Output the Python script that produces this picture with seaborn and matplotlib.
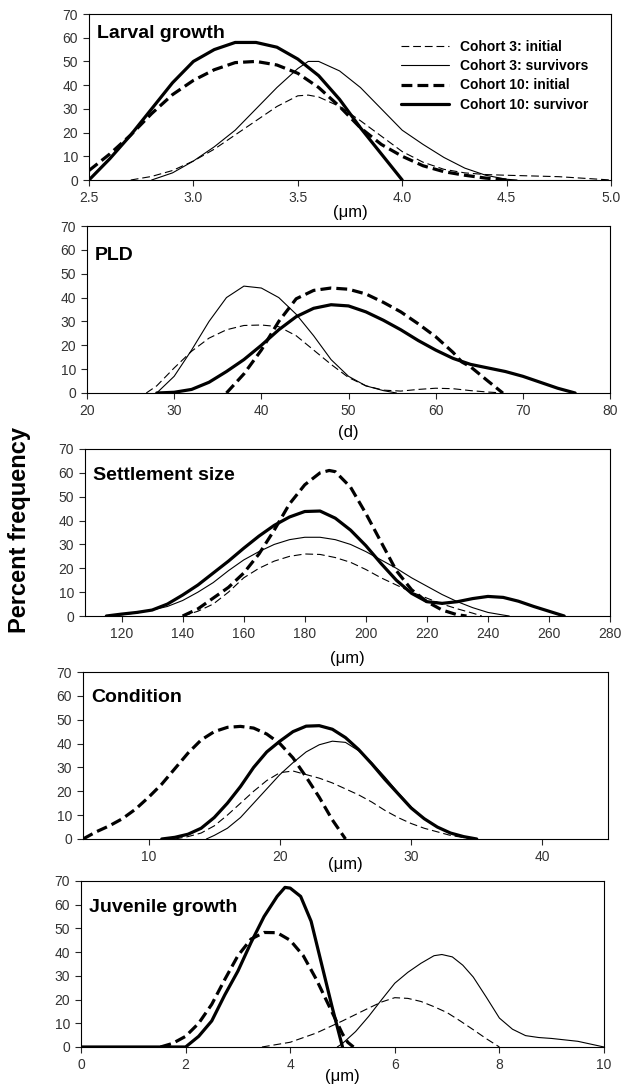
import numpy as np
import pandas as pd
import seaborn as sns
import matplotlib.pyplot as plt

# ── Data ─────────────────────────────────────────────────────────────────────
LABELS = ["Cohort 3: initial", "Cohort 3: survivors",
          "Cohort 10: initial", "Cohort 10: survivor"]

# Larval growth (µm)
larval_c3i_x = [2.7, 2.8, 2.9, 3.0, 3.1, 3.2, 3.3, 3.4, 3.5, 3.55, 3.6, 3.7, 3.8, 3.9,
                4.0, 4.1, 4.2, 4.3, 4.4, 4.5, 4.75, 5.0]
larval_c3i_y = [0, 1.5, 4, 8, 13, 19, 25, 31, 35.5, 35.8, 35, 31, 25, 18.5,
                12, 7.5, 4.5, 3, 2.3, 2, 1.4, 0]
larval_c3s_x = [2.8, 2.9, 3.0, 3.1, 3.2, 3.3, 3.4, 3.5, 3.55, 3.6, 3.7, 3.8, 3.9,
                4.0, 4.1, 4.2, 4.3, 4.4, 4.5, 4.55]
larval_c3s_y = [0, 3, 8, 14, 21, 30, 39, 47, 50, 50, 46, 39, 30,
                21, 15, 9.5, 5, 2, 0.3, 0]
larval_c10i_x = [2.5, 2.6, 2.7, 2.8, 2.9, 3.0, 3.1, 3.2, 3.3, 3.4, 3.5, 3.6, 3.7,
                 3.8, 3.9, 4.0, 4.1, 4.2, 4.3, 4.4, 4.5]
larval_c10i_y = [4, 11, 19, 28, 36, 42, 46.5, 49.5, 50, 48.5, 45, 39, 31,
                 22, 15, 10, 6, 3.5, 2, 0.8, 0]
larval_c10s_x = [2.5, 2.6, 2.7, 2.8, 2.9, 3.0, 3.1, 3.2, 3.3, 3.4, 3.5, 3.6, 3.7,
                 3.8, 3.9, 4.0]
larval_c10s_y = [0, 9, 19, 30, 41, 50, 55, 58, 58, 56, 51, 44, 34,
                 22, 11, 0]

# PLD (d)
pld_c3i_x = [26.8, 28, 30, 32, 34, 36, 38, 40, 42, 44, 46, 48, 50, 52, 54, 56,
             58, 60, 62, 64, 66, 67.8]
pld_c3i_y = [0, 3, 10.5, 17.5, 23, 26.5, 28.3, 28.5, 27.8, 24, 18, 12, 6.5, 3,
             1.2, 0.8, 1.5, 2, 1.8, 1, 0.4, 0]
pld_c3s_x = [28, 30, 32, 34, 36, 38, 40, 42, 44, 46, 48, 50, 52, 54, 55.5]
pld_c3s_y = [0, 7, 18, 30, 40, 44.8, 44, 40, 33, 24, 14, 7, 3, 1, 0]
pld_c10i_x = [36, 38, 40, 42, 44, 46, 48, 50, 52, 54, 56, 58, 60, 62, 63, 64,
              66, 67.7]
pld_c10i_y = [0, 8, 18, 30, 39.5, 43, 44, 43.5, 41.5, 38, 34, 29, 23.6, 17,
              13, 11, 5, 0]
pld_c10s_x = [28, 30, 32, 34, 36, 38, 40, 42, 44, 46, 48, 50, 52, 54, 56, 58,
              60, 62, 64, 66, 68, 70, 72, 74, 76]
pld_c10s_y = [0, 0.3, 1.5, 4.5, 9, 14, 20, 26.5, 32, 35.5, 37, 36.5, 34, 30.5,
              26.5, 22, 18, 14.5, 12, 10.5, 9, 7, 4.5, 2, 0]

# Settlement size (µm)
settle_c3i_x = [140, 145, 150, 155, 160, 165, 170, 175, 180, 185, 190, 195, 200,
                205, 210, 215, 220, 225, 230, 235, 238]
settle_c3i_y = [0, 2, 5, 10, 16, 20, 23, 25, 26, 25.8, 24.5, 22.5, 19.5,
                16, 13, 10, 7.5, 5, 3, 1.2, 0]
settle_c3s_x = [115, 120, 125, 130, 135, 140, 145, 150, 155, 160, 165, 170, 175,
                180, 185, 190, 195, 200, 205, 210, 215, 220, 225, 230, 235, 240,
                245, 247]
settle_c3s_y = [0, 0.5, 1.3, 2.5, 4, 6.5, 10, 14, 19, 23.5, 27, 30, 32,
                33, 33, 32, 30, 27, 23.5, 20, 16, 12.5, 9, 6, 3.5, 1.5,
                0.4, 0]
settle_c10i_x = [140, 145, 150, 155, 160, 165, 170, 175, 180, 185, 188, 190, 195,
                 200, 205, 210, 215, 220, 225, 230, 233]
settle_c10i_y = [0, 3, 7.5, 12, 18, 26, 36, 47, 55, 60, 61, 60.5, 54,
                 43, 31, 19, 11, 6, 2.5, 0.5, 0]
settle_c10s_x = [115, 120, 125, 130, 135, 140, 145, 150, 155, 160, 165, 170, 175,
                 180, 185, 190, 195, 200, 205, 210, 215, 220, 225, 230, 235, 240,
                 245, 250, 255, 260, 265]
settle_c10s_y = [0, 0.8, 1.5, 2.5, 5, 8.8, 13, 18, 23, 28.4, 33.5, 38, 41.5,
                 43.8, 44, 41, 36, 29.5, 22, 15, 9.5, 6, 5.3, 6, 7.3, 8.2,
                 7.8, 6.2, 4, 2, 0]

# Condition (µm)
cond_c3i_x = [12, 13, 14, 15, 16, 17, 18, 19, 20, 21, 22, 23, 24, 25, 26, 27,
              28, 29, 30, 31, 32, 33, 34, 35]
cond_c3i_y = [0, 1, 2.5, 5.5, 10, 15, 20, 24.5, 27.8, 28.5, 27, 25.5, 23.5, 21,
              18.5, 15.5, 12, 9, 6.5, 4.5, 3, 1.5, 0.6, 0]
cond_c3s_x = [14.4, 15, 16, 17, 18, 19, 20, 21, 22, 23, 24, 25, 26, 27, 28, 29,
              30, 31, 32, 33, 34, 35]
cond_c3s_y = [0, 1.5, 4.5, 9, 15, 21, 27, 32, 36.5, 39.5, 41, 40.5, 37, 32, 26,
              19.5, 13.5, 8.5, 5, 2.5, 1, 0]
cond_c10i_x = [5, 6, 7, 8, 9, 10, 11, 12, 13, 14, 15, 16, 17, 18, 19, 20, 21,
               22, 23, 24, 25]
cond_c10i_y = [0, 3, 5.5, 8.5, 12.5, 17.5, 23, 29.5, 36, 41.5, 45, 46.8, 47.2,
               46.5, 44, 40, 34, 26, 17.5, 8, 0]
cond_c10s_x = [11, 12, 13, 14, 15, 16, 17, 18, 19, 20, 21, 22, 23, 24, 25, 26,
               27, 28, 29, 30, 31, 32, 33, 34, 35]
cond_c10s_y = [0, 0.7, 2, 4.5, 9, 15, 22, 30, 36.5, 41, 45, 47.3, 47.5, 46,
               42.5, 37.5, 31.5, 25, 19, 13, 8.5, 5, 2.5, 1, 0]

# Juvenile growth (µm)
juv_c3i_x = [3.46, 4.0, 4.5, 5.0, 5.5, 5.75, 6.0, 6.25, 6.5, 6.75, 7.0, 7.25,
             7.5, 7.75, 8.0]
juv_c3i_y = [0, 2, 5.9, 11, 16.4, 19, 20.8, 20.5, 19.2, 17, 14.5, 11,
             7.3, 3.5, 0]
juv_c3s_x = [4.9, 5.0, 5.25, 5.5, 5.75, 6.0, 6.25, 6.5, 6.75, 6.9, 7.1, 7.3,
             7.5, 7.75, 8.0, 8.25, 8.5, 8.75, 9.0, 9.5, 10.0]
juv_c3s_y = [0, 1.5, 6.5, 12.9, 20, 26.9, 31.5, 35.3, 38.5, 39, 38, 34.5,
             29.5, 21, 12.2, 7.5, 4.8, 4, 3.6, 2.4, 0]
juv_c10i_x = [1.52, 1.75, 2.0, 2.25, 2.5, 2.75, 3.0, 3.25, 3.5, 3.75, 4.0, 4.25,
              4.5, 4.75, 5.0, 5.1, 5.21]
juv_c10i_y = [0, 1.5, 4.5, 10, 18, 28.5, 38.5, 45.5, 48.3, 48.2, 45, 38.5,
              28.5, 17, 5.5, 2, 0]
juv_c10s_x = [0, 2.0, 2.25, 2.5, 2.75, 3.0, 3.25, 3.5, 3.75, 3.9, 4.0, 4.2,
              4.4, 4.6, 4.8, 5.0]
juv_c10s_y = [0, 0, 4.5, 11, 22, 32, 44, 55, 63.5, 67.3, 67, 63.5,
              53, 35, 17, 0]

# ── Panel set-up ─────────────────────────────────────────────────────────────
PANELS = [
    dict(title="Larval growth", xlabel="(\u03bcm)", xlim=(2.5, 5.0),
         xticks=[2.5, 3.0, 3.5, 4.0, 4.5, 5.0], fmt="{:.1f}",
         series=[(larval_c3i_x, larval_c3i_y), (larval_c3s_x, larval_c3s_y),
                 (larval_c10i_x, larval_c10i_y), (larval_c10s_x, larval_c10s_y)],
         box=(89, 611, 14, 180), title_dy=19, xlab_dy=33),
    dict(title="PLD", xlabel="(d)", xlim=(20, 80),
         xticks=[20, 30, 40, 50, 60, 70, 80], fmt="{:.0f}",
         series=[(pld_c3i_x, pld_c3i_y), (pld_c3s_x, pld_c3s_y),
                 (pld_c10i_x, pld_c10i_y), (pld_c10s_x, pld_c10s_y)],
         box=(87, 610, 226, 393), title_dy=29, xlab_dy=40),
    dict(title="Settlement size", xlabel="(\u03bcm)", xlim=(108, 280),
         xticks=[120, 140, 160, 180, 200, 220, 240, 260, 280], fmt="{:.0f}",
         series=[(settle_c3i_x, settle_c3i_y), (settle_c3s_x, settle_c3s_y),
                 (settle_c10i_x, settle_c10i_y), (settle_c10s_x, settle_c10s_y)],
         box=(85, 610, 449, 616), title_dy=26, xlab_dy=42),
    dict(title="Condition", xlabel="(\u03bcm)", xlim=(5, 45),
         xticks=[10, 20, 30, 40], fmt="{:.0f}",
         series=[(cond_c3i_x, cond_c3i_y), (cond_c3s_x, cond_c3s_y),
                 (cond_c10i_x, cond_c10i_y), (cond_c10s_x, cond_c10s_y)],
         box=(83, 608, 672, 839), title_dy=25, xlab_dy=26),
    dict(title="Juvenile growth", xlabel="(\u03bcm)", xlim=(0, 10),
         xticks=[0, 2, 4, 6, 8, 10], fmt="{:.0f}",
         series=[(juv_c3i_x, juv_c3i_y), (juv_c3s_x, juv_c3s_y),
                 (juv_c10i_x, juv_c10i_y), (juv_c10s_x, juv_c10s_y)],
         box=(81, 604, 881, 1047), title_dy=27, xlab_dy=30),
]

STYLES = [
    dict(linewidth=0.8, linestyle=(0, (7, 3.5))),
    dict(linewidth=0.8, linestyle="-"),
    dict(linewidth=2.3, linestyle=(0, (3.4, 1.6))),
    dict(linewidth=2.3, linestyle="-"),
]

# ── Figure ───────────────────────────────────────────────────────────────────
sns.set_style("ticks")
plt.rcParams["font.family"] = ["Liberation Sans", "DejaVu Sans"]
plt.rcParams["text.color"] = "black"
plt.rcParams["axes.labelcolor"] = "black"

W, H = 622, 1087
fig = plt.figure(figsize=(W / 100, H / 100), dpi=100)

for i, p in enumerate(PANELS):
    l, r, t, b = p["box"]
    ax = fig.add_axes([l / W, 1 - b / H, (r - l) / W, (b - t) / H])
    for (xs, ys), lab, st in zip(p["series"], LABELS, STYLES):
        df = pd.DataFrame({"x": xs, "y": ys})
        sns.lineplot(data=df, x="x", y="y", ax=ax, color="black",
                     label=lab if i == 0 else None, legend=False,
                     sort=False, solid_joinstyle="round", **st)
    ax.set_xlim(*p["xlim"])
    ax.set_ylim(0, 70)
    ax.set_yticks(range(0, 71, 10))
    ax.set_xticks(p["xticks"])
    ax.set_xticklabels([p["fmt"].format(v) for v in p["xticks"]])
    ax.tick_params(direction="out", length=4, width=0.8, labelsize=10,
                   labelcolor="#333333", pad=4)
    for sp in ax.spines.values():
        sp.set_color("black")
        sp.set_linewidth(0.8)
    ax.set_ylabel("")
    ax.set_xlabel(p["xlabel"], fontsize=12)
    ax.xaxis.set_label_coords(0.5, -p["xlab_dy"] / (b - t))
    ax.xaxis.label.set_va("center")
    ax.text(8 / (r - l), 1 - p["title_dy"] / (b - t), p["title"],
            transform=ax.transAxes, fontsize=14, fontweight="bold",
            ha="left", va="center")
    if i == 0:
        ax.legend(loc="upper left", bbox_to_anchor=(394 / W, 1 - 33 / H),
                  bbox_transform=fig.transFigure, frameon=False, borderpad=0,
                  handlelength=3.45, handletextpad=0.8, labelspacing=0.38,
                  prop=dict(size=10, weight="bold"))

fig.text(20 / W, 1 - 530 / H, "Percent frequency", rotation=90,
         fontsize=17, fontweight="bold", ha="center", va="center")

fig.savefig("out.png", dpi=100)
